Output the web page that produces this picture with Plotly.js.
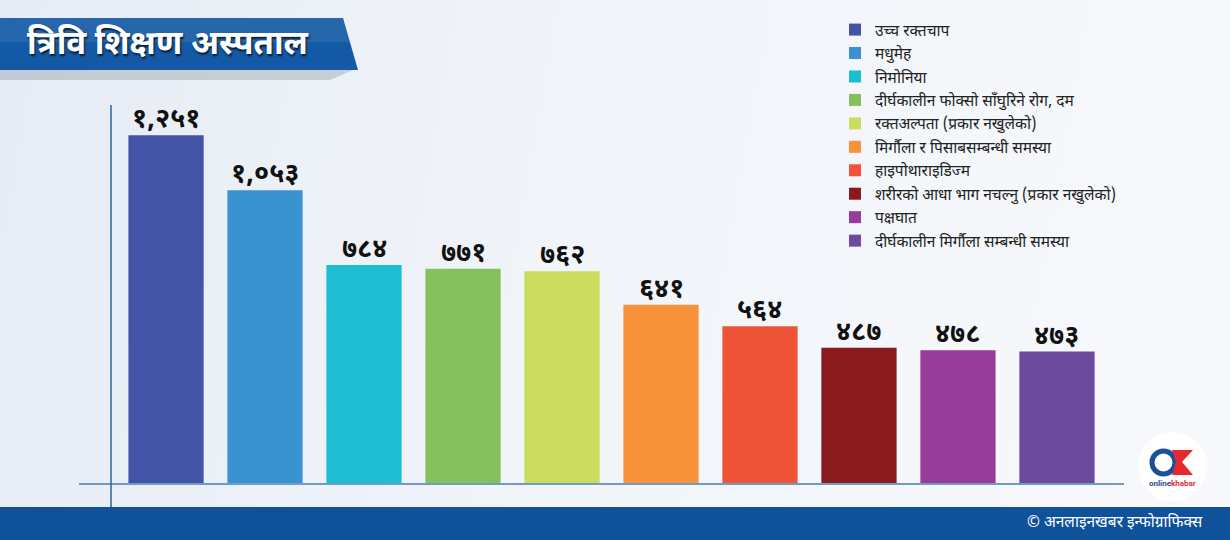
<!DOCTYPE html>
<html>
<head>
<meta charset="utf-8">
<script src="https://cdn.plot.ly/plotly-3.0.1.min.js"></script>
<style>
  html, body { margin:0; padding:0; }
  body { width:1230px; height:540px; background: linear-gradient(100deg, #e6ecf5 0%, #f1f4f9 45%, #f7f9fc 100%); }
  #chart { width:1230px; height:540px; }
</style>
</head>
<body>
<div id="chart"></div>
<script>
// ---- data ----
const categories = [
  "उच्च रक्तचाप",
  "मधुमेह",
  "निमोनिया",
  "दीर्घकालीन फोक्सो साँघुरिने रोग, दम",
  "रक्तअल्पता (प्रकार नखुलेको)",
  "मिर्गौला र पिसाबसम्बन्धी समस्या",
  "हाइपोथाराइडिज्म",
  "शरीरको आधा भाग नचल्नु (प्रकार नखुलेको)",
  "पक्षघात",
  "दीर्घकालीन मिर्गौला सम्बन्धी समस्या"
];
const values = [1251, 1053, 784, 771, 762, 641, 564, 487, 478, 473];
const valueLabels = ["१,२५१", "१,०५३", "७८४", "७७१", "७६२", "६४१", "५६४", "४८७", "४७८", "४७३"];
const barColors = ["#4353a5", "#3a92d0", "#1dbdd3", "#86c05d", "#cadd5e", "#f7923a", "#ef5439", "#8b1a1e", "#973c9a", "#6c4a9d"];
const titleText = "त्रिवि शिक्षण अस्पताल";
const footerText = "© अनलाइनखबर इन्फोग्राफिक्स";

// ---- layout helpers (pixel -> paper) ----
const L = 79, R = 1124, T = 100, B = 483;
const W = R - L, H = B - T;
const px = x => (x - L) / W;
const py = y => (B - y) / H;

const FONT = "'Noto Sans Devanagari', 'Noto Sans', 'Lohit Devanagari', 'Mukta', sans-serif";

const traces = categories.map((c, i) => ({
  type: "bar",
  x: [i],
  y: [values[i]],
  name: c,
  legendgroup: "g" + i,
  width: 0.76,
  marker: { color: barColors[i], line: { width: 0 } },
  hoverinfo: "skip"
}));

const valueAnnotations = values.map((v, i) => ({
  xref: "x", yref: "y", x: i, y: v, text: valueLabels[i], showarrow: false,
  xanchor: "center", yanchor: "bottom", yshift: -5,
  font: { family: FONT, size: 27, color: "#111", weight: 700 }
}));

const shapes = [
  // footer band
  { type: "rect", xref: "paper", yref: "paper", x0: px(0), x1: px(1230), y0: py(507), y1: py(541),
    fillcolor: "#0f5299", line: { width: 0 }, layer: "below" },
  // banner shadow
  { type: "path", xref: "paper", yref: "paper",
    path: `M ${px(0)} ${py(68)} L ${px(358)} ${py(68)} L ${px(330)} ${py(80)} L ${px(0)} ${py(80)} Z`,
    fillcolor: "rgba(40,50,70,0.18)", line: { width: 0 }, layer: "below" },
  // banner
  { type: "path", xref: "paper", yref: "paper",
    path: `M ${px(0)} ${py(18)} L ${px(343)} ${py(18)} L ${px(358)} ${py(70)} L ${px(0)} ${py(70)} Z`,
    fillcolor: "#1459a6", line: { width: 0 }, layer: "below" },
  { type: "path", xref: "paper", yref: "paper",
    path: `M ${px(0)} ${py(18)} L ${px(343)} ${py(18)} L ${px(350)} ${py(42)} L ${px(0)} ${py(42)} Z`,
    fillcolor: "rgba(255,255,255,0.08)", line: { width: 0 }, layer: "below" },
  // y axis line
  { type: "line", xref: "paper", yref: "paper", x0: px(111), x1: px(111), y0: py(105), y1: py(507),
    line: { color: "#2d6596", width: 1.5 }, layer: "above" },
  // logo circle
  { type: "circle", xref: "paper", yref: "paper", x0: px(1138), x1: px(1207), y0: py(432), y1: py(501),
    fillcolor: "#ffffff", line: { width: 0 } },
  // logo O ring
  { type: "circle", xref: "paper", yref: "paper", x0: px(1152), x1: px(1175), y0: py(451), y1: py(474),
    fillcolor: "rgba(0,0,0,0)", line: { color: "#1b4f9c", width: 5 } },
  // logo K
  { type: "path", xref: "paper", yref: "paper",
    path: `M ${px(1172)} ${py(450)} L ${px(1193)} ${py(450)} L ${px(1182)} ${py(462)} L ${px(1193)} ${py(475)} L ${px(1172)} ${py(475)} L ${px(1176)} ${py(462)} Z`,
    fillcolor: "#e42a2f", line: { width: 0 } }
];

const annotations = [
  { xref: "paper", yref: "paper", x: px(168), y: py(45), text: "<b>" + titleText + "</b>", showarrow: false,
    xanchor: "center", yanchor: "middle",
    font: { family: FONT, size: 33, color: "#ffffff", shadow: "1px 2px 2px rgba(0,0,0,0.7)" } },
  { xref: "paper", yref: "paper", x: px(1205), y: py(523), text: footerText, showarrow: false,
    xanchor: "right", yanchor: "middle",
    font: { family: FONT, size: 15.5, color: "#ffffff" } },
  { xref: "paper", yref: "paper", x: px(1172), y: py(484), text: "<span style='color:#1b4f9c'>online</span><span style='color:#e42a2f'>khabar</span>", showarrow: false,
    xanchor: "center", yanchor: "middle",
    font: { family: "Roboto, sans-serif", size: 8, color: "#1b4f9c", weight: 700 } }
].concat(valueAnnotations);

const layout = {
  width: 1230, height: 540,
  margin: { l: L, r: 1230 - R, t: T, b: 540 - B, pad: 0 },
  paper_bgcolor: "rgba(0,0,0,0)",
  plot_bgcolor: "rgba(0,0,0,0)",
  barmode: "overlay",
  showlegend: true,
  legend: {
    x: px(835), y: py(13), xanchor: "left", yanchor: "top",
    bgcolor: "rgba(0,0,0,0)",
    font: { family: FONT, size: 15.5, color: "#222" },
    tracegroupgap: 0.3,
    itemclick: false, itemdoubleclick: false
  },
  xaxis: {
    range: [-0.879, 9.677], showgrid: false, zeroline: false, showticklabels: false, ticks: "",
    showline: true, linecolor: "#6f9cc4", linewidth: 2, fixedrange: true
  },
  yaxis: {
    range: [0, 1378], showgrid: false, zeroline: false, showticklabels: false, ticks: "",
    showline: false, fixedrange: true
  },
  shapes: shapes,
  annotations: annotations,
  font: { family: FONT }
};

Plotly.newPlot("chart", traces, layout, { displayModeBar: false, staticPlot: true });
</script>
</body>
</html>
